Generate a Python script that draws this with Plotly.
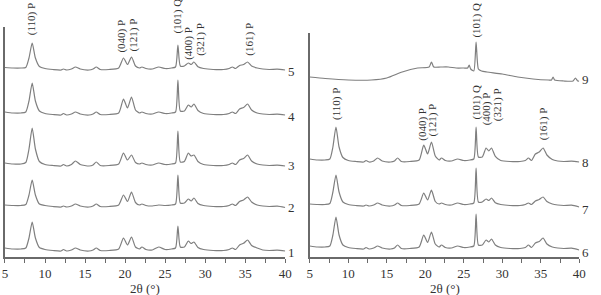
import plotly.graph_objects as go

# 2-theta sampling positions (degrees)
two_theta = [5.0, 6.0, 7.0, 7.6, 8.0, 8.4, 8.8, 9.3, 10.0, 11.0, 12.0, 12.3, 12.7, 13.3, 13.8,
             14.4, 15.5, 16.0, 16.4, 16.9, 18.0, 19.2, 19.8, 20.3, 20.8, 21.3, 21.8, 22.1, 22.6,
             23.4, 24.2, 25.0, 25.8, 26.3, 26.6, 26.9, 27.4, 27.9, 28.25, 28.6, 29.1, 29.8, 31.0,
             32.3, 33.0, 33.4, 33.8, 34.3, 34.8, 35.3, 35.8, 36.5, 37.2, 38.0, 39.0, 40.0]

# intensities (a.u.) above each pattern's baseline
s1 = [3, 2, 2, 3, 13, 29, 13, 3.5, 1.5, 0.5, 0, 1.5, 0, 1, 3, 1, 0, 1, 3, 0.5, 0.5, 2, 13, 6, 14, 4, 2, 4,
      1.5, 1, 4, 1.5, 2, 3, 25, 4, 4, 10, 7.5, 9, 3.6, 1.5, 0.5, 0.5, 1.5, 3, 1.5, 6, 7.7, 11, 5.5, 3, 1,
      0.5, 0.8, 0]
s2 = [2, 1.5, 1.5, 2.5, 12, 27, 12, 3, 1.5, 0.5, 0, 1, 0, 1, 3, 1, 0, 1, 3, 0.5, 0.5, 2, 12, 5.5, 15, 4.5,
      2, 3, 1.5, 1, 2, 1.5, 2, 3, 32, 4, 4, 8, 6, 9, 3.6, 1.5, 0.5, 0.5, 1.5, 3, 1.5, 5.5, 7, 10, 5, 2, 1,
      0.5, 0.8, -0.5]
s3 = [3, 2, 2, 3.5, 17, 38, 17, 4.5, 1.5, 0.5, 0, 1.5, 0, 1.5, 5, 1.5, 0, 1, 4, 0.5, 0.5, 2, 13, 6, 11,
      3.5, 2, 3, 1.5, 1, 3, 1.5, 2, 3, 35, 4, 4.5, 13, 10, 11, 4.5, 1.5, 0.5, 0.5, 1.5, 3, 1.5, 6, 7.5, 11,
      5, 2, 1, 0.5, 0.8, 0]
s4 = [3, 2, 2, 3, 14, 32, 14, 4, 1.5, 0.5, 0, 1.5, 0, 1, 3, 1, 0, 1, 3, 0.5, 0.5, 2, 16, 7, 18, 5, 2, 3,
      1.5, 1, 3, 1.5, 2, 3, 35, 4, 4, 10, 8, 11, 4.5, 1.5, 0.5, 0.5, 1.5, 3, 1.5, 6, 7.5, 11, 5, 2, 1, 0.5,
      0.8, 0]
s5 = [2.5, 2, 2, 2.5, 12, 27, 12, 3.5, 1.5, 0.5, 0, 1, 0, 1, 3, 1, 0, 1, 3, 0.5, 0.5, 2, 12, 5.5, 13, 4,
      2, 3, 1.5, 1, 3, 1.5, 2, 3, 25, 4, 4, 7, 5.5, 8, 3.2, 1.5, 0.5, 0.5, 1.5, 3, 1.5, 4.5, 5.5, 8, 4, 2,
      1, 0.5, 0.8, 0]
s6 = [3, 2, 2, 3, 14, 32, 14, 4, 1.5, 0.5, 0, 1.5, 0, 1, 3, 1, 0, 1, 4, 0.5, 0.5, 2, 14, 6.5, 17, 5, 2, 4,
      1.5, 1, 3, 1.5, 2, 3, 35, 4, 4, 9, 7, 10, 4, 1.5, 0.5, 0.5, 1.5, 4, 1.5, 6, 7.5, 11, 5, 2, 1, 0.5,
      0.8, -1]
s7 = [2, 1.5, 1.5, 2.5, 14, 31, 14, 4, 1.5, 0.5, 0, 1, 0, 1, 3, 1, 0, 1, 3, 0.5, 0.5, 2, 13, 6, 16, 4.5,
      2, 3, 1.5, 1, 3, 1.5, 2, 3, 38, 4, 4, 7, 5.5, 8, 3.2, 1.5, 0.5, 0.5, 1.5, 3, 1.5, 5, 6.5, 9, 4.5, 2,
      1, 0.5, 0.8, -1]
s8 = [3, 2, 2, 3, 15, 35, 15, 4.5, 1.5, 0.5, 0, 1.5, 0, 1, 4, 1, 0, 1, 4, 0.5, 0.5, 2, 17, 8, 20, 6, 2, 4,
      1.5, 1, 3, 1.5, 2, 3, 35, 5, 5, 14, 11, 14, 5.6, 1.5, 0.5, 0.5, 1.5, 4, 1.5, 8, 10, 14, 7, 2.5, 1,
      0.5, 0.8, 0]

# sample 9: amorphous pattern
two_theta_9 = [5, 7, 10, 13, 15, 17, 19, 20.5, 20.8, 21.1, 22, 23, 24, 25, 25.5, 25.7, 25.9, 26.3, 26.6,
               26.9, 27.3, 28, 30, 32, 34, 36, 36.4, 36.6, 36.8, 38, 39.2, 39.5, 39.8, 40]
s9 = [4, 2.5, 1, 1, 3, 9, 13, 14, 19, 14, 14, 14, 13, 13, 13, 16, 12, 10, 39, 12, 10, 9, 7, 4, 2, 1, 1, 4,
      1, 0, 0, 3, 0, 0]

left_series = [("1", s1), ("2", s2), ("3", s3), ("4", s4), ("5", s5)]
right_series = [("6", s6), ("7", s7), ("8", s8)]

left_offsets = [6, 50, 91, 142, 187]
right_offsets = [8, 51, 95]
offset_9 = 176

left_label_y = [5, 50, 92, 140, 185]
right_label_y = [5, 48, 95, 178]

peak_names = ["(110) P", "(040) P", "(121) P", "(101) Q", "(400) P", "(321) P", "(161) P"]
peak_pos_left = [8.4, 19.5, 21.1, 26.6, 27.9, 29.4, 35.5]
peak_lab_left = [220, 202, 204, 222, 195, 199, 199]
peak_pos_right = [8.4, 19.6, 21.0, 26.6, 28.0, 29.4, 35.4]
peak_lab_right = [135, 114, 119, 135, 130, 134, 115]

LINE = "#7f7f7f"
AX = "#6a6a6a"
FONT = "Liberation Serif, 'Times New Roman', Times, serif"

fig = go.Figure()
for (name, s), off in zip(left_series, left_offsets):
    fig.add_trace(go.Scatter(x=two_theta, y=[v + off for v in s], mode="lines",
                             line=dict(color=LINE, width=1.2, shape="spline", smoothing=0.6),
                             xaxis="x", yaxis="y", name=name, showlegend=False))
for (name, s), off in zip(right_series, right_offsets):
    fig.add_trace(go.Scatter(x=two_theta, y=[v + off for v in s], mode="lines",
                             line=dict(color=LINE, width=1.2, shape="spline", smoothing=0.6),
                             xaxis="x2", yaxis="y2", name=name, showlegend=False))
fig.add_trace(go.Scatter(x=two_theta_9, y=[v + offset_9 for v in s9], mode="lines",
                         line=dict(color=LINE, width=1.2, shape="spline", smoothing=0.6),
                         xaxis="x2", yaxis="y2", name="9", showlegend=False))

W, H = 601, 295
xcommon = dict(range=[5, 40], tickvals=[5, 10, 15, 20, 25, 30, 35, 40], ticks="outside", ticklen=4,
               tickcolor=AX, showline=True, linecolor=AX, linewidth=1.5, showgrid=False, zeroline=False,
               tickfont=dict(family=FONT, size=13, color="#333"),
               minor=dict(dtick=2.5, tick0=5, ticks="outside", ticklen=4, tickcolor=AX, showgrid=False))
ycommon = dict(showline=True, linecolor=AX, linewidth=1.5, showticklabels=False, ticks="",
               showgrid=False, zeroline=False)

fig.update_layout(
    width=W, height=H, margin=dict(l=0, r=0, t=0, b=38),
    paper_bgcolor="white", plot_bgcolor="white",
    font=dict(family=FONT),
    xaxis=dict(domain=[2 / W, 287 / W], anchor="y", **xcommon),
    xaxis2=dict(domain=[312 / W, 586 / W], anchor="y2", **xcommon),
    yaxis=dict(domain=[0, 230 / 257], range=[0, 230], anchor="x", **ycommon),
    yaxis2=dict(domain=[0, 224 / 257], range=[0, 224], anchor="x2", **ycommon),
)

ann = []
for nm, px, py in zip(peak_names, peak_pos_left, peak_lab_left):
    ann.append(dict(x=px, y=py, xref="x", yref="y", text=nm, textangle=-90, showarrow=False,
                    xanchor="center", yanchor="bottom", font=dict(family=FONT, size=11, color="#333")))
for nm, px, py in zip(peak_names, peak_pos_right, peak_lab_right):
    ann.append(dict(x=px, y=py, xref="x2", yref="y2", text=nm, textangle=-90, showarrow=False,
                    xanchor="center", yanchor="bottom", font=dict(family=FONT, size=11, color="#333")))
ann.append(dict(x=26.6, y=217, xref="x2", yref="y2", text="(101) Q", textangle=-90, showarrow=False,
                xanchor="center", yanchor="bottom", font=dict(family=FONT, size=11, color="#333")))

for (name, _), ly in zip(left_series, left_label_y):
    ann.append(dict(x=40, y=ly, xref="x", yref="y", text=name, showarrow=False, xanchor="left",
                    yanchor="middle", xshift=1, font=dict(family=FONT, size=13, color="#333")))
for name, ly in zip(["6", "7", "8", "9"], right_label_y):
    ann.append(dict(x=40, y=ly, xref="x2", yref="y2", text=name, showarrow=False, xanchor="left",
                    yanchor="middle", xshift=1, font=dict(family=FONT, size=13, color="#333")))

for cx in [(2 + 287) / 2 / W, (312 + 586) / 2 / W]:
    ann.append(dict(x=cx, y=-31 / 257, xref="paper", yref="paper", text="2θ (°)", showarrow=False,
                    xanchor="center", yanchor="middle", font=dict(family=FONT, size=13, color="#333")))

fig.update_layout(annotations=ann)
fig.write_html("out.html")
